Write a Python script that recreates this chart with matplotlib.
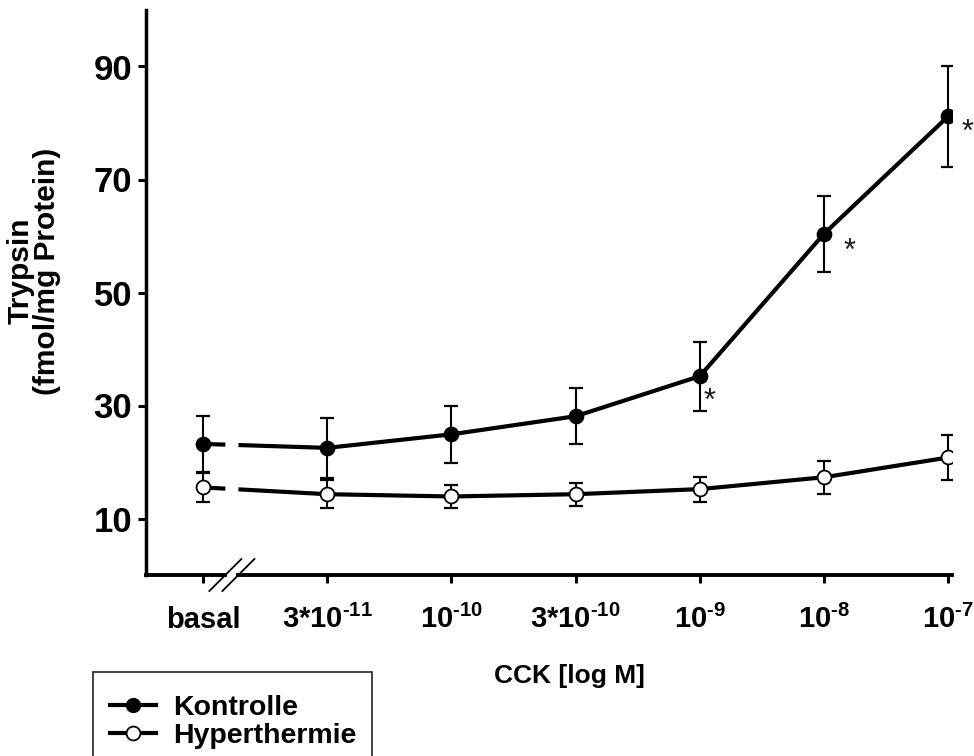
import numpy as np
import matplotlib.pyplot as plt
from matplotlib.lines import Line2D
from matplotlib.patches import Rectangle
from matplotlib import transforms

plt.rcParams['font.family'] = 'Liberation Sans'
plt.rcParams['font.weight'] = 'bold'
plt.rcParams['mathtext.fontset'] = 'custom'
plt.rcParams['mathtext.rm'] = 'Liberation Sans:bold'
plt.rcParams['mathtext.it'] = 'Liberation Sans:bold'
plt.rcParams['mathtext.bf'] = 'Liberation Sans:bold'

doses = ['basal', r'3*10$^{\text{-11}}$', r'10$^{\text{-10}}$', r'3*10$^{\text{-10}}$',
         r'10$^{\text{-9}}$', r'10$^{\text{-8}}$', r'10$^{\text{-7}}$']
kontrolle = [23.2, 22.5, 24.9, 28.1, 35.2, 60.4, 81.2]
kontrolle_err = [5.0, 5.3, 5.1, 5.0, 6.1, 6.7, 8.9]
hyperthermie = [15.5, 14.3, 13.9, 14.3, 15.2, 17.3, 20.8]
hyperthermie_err = [2.5, 2.5, 2.1, 2.0, 2.2, 2.9, 4.0]
significant = [4, 5, 6]   # Kontrolle points marked with *
yticks = [10, 30, 50, 70, 90]

W, H = 974, 756
fig = plt.figure(figsize=(W / 100, H / 100), dpi=100)
ax = fig.add_axes([146 / W, 1 - 575 / H, (952 - 146) / W, (575 - 10) / H])

x = np.arange(len(doses))
gap = (0.18, 0.285)   # break between basal and the first dose


def draw_series(y, err, face):
    ax.errorbar(x, y, yerr=err, fmt='none', ecolor='k', elinewidth=1.5,
                capsize=5, capthick=1.6, zorder=2)
    xa = np.array([0, gap[0]])
    ax.plot(xa, np.interp(xa, x, y), color='k', lw=3, solid_capstyle='butt', zorder=3)
    xb = np.r_[gap[1], x[1:]]
    ax.plot(xb, np.interp(xb, x, y), color='k', lw=3, solid_capstyle='butt', zorder=3)
    ax.plot(x, y, 'o', ms=10, mfc=face, mec='k', mew=1.3, zorder=4)


draw_series(kontrolle, kontrolle_err, 'k')
draw_series(hyperthermie, hyperthermie_err, 'white')

offsets = {4: (7.2, -24), 5: (18, -19), 6: (13.7, -17.5)}
for i in significant:
    ax.annotate('*', (x[i], kontrolle[i]), xytext=offsets[i], textcoords='offset points',
                ha='center', va='baseline', fontsize=22, fontweight='normal',
                color='#1a1a1a', annotation_clip=False)

ax.set_xlim(-0.459, 6.03)
ax.set_ylim(0, 100)
ax.set_yticks(yticks)
ax.set_xticks(x)
ax.set_xticklabels(doses, va='baseline')
ax.tick_params(axis='both', direction='out', length=6, width=2.2)
ax.tick_params(axis='x', pad=32, labelsize=21)
ax.tick_params(axis='y', pad=4, labelsize=25)

for side in ['top', 'right', 'bottom']:
    ax.spines[side].set_visible(False)
ax.spines['left'].set_linewidth(2.5)

# x axis drawn by hand so it can carry the break
trans = transforms.blended_transform_factory(ax.transData, ax.transAxes)
for x0, x1 in [(-0.459, gap[0]), (gap[1], 6.03)]:
    ax.plot([x0, x1], [0, 0], color='k', lw=2.8, transform=trans,
            clip_on=False, solid_capstyle='projecting', zorder=5)
dy = 16 / 565
dx = 16 / 124.2
for g in gap:
    ax.plot([g - dx, g + dx], [-dy, dy], color='k', lw=1.3, transform=trans,
            clip_on=False, zorder=5)

fig.text(34 / W, 1 - 271 / H, 'Trypsin\n(fmol/mg Protein)', rotation=90,
         ha='center', va='center', fontsize=21.5, linespacing=0.95)
fig.text(569 / W, 1 - 683 / H, 'CCK [log M]', ha='center', va='baseline', fontsize=19)

handles = [
    Line2D([], [], color='k', lw=3, marker='o', ms=10, mfc='k', mec='k'),
    Line2D([], [], color='k', lw=3, marker='o', ms=10, mfc='white', mec='k', mew=1.3),
]
# legend frame runs off the bottom of the figure
fig.patches.append(Rectangle((93 / W, -20 / H), (372 - 93) / W, (H - 672 + 20) / H,
                             transform=fig.transFigure, fill=False,
                             edgecolor='#222222', lw=1.2))
ax.legend(handles, ['Kontrolle', 'Hyperthermie'], loc='upper left',
          bbox_to_anchor=(110 / W, 1 - 695 / H), bbox_transform=fig.transFigure,
          borderaxespad=0, borderpad=0, fontsize=20.5, handlelength=1.6, handletextpad=0.6,
          labelspacing=0.08, frameon=False)

fig.savefig('out.png', dpi=100)
